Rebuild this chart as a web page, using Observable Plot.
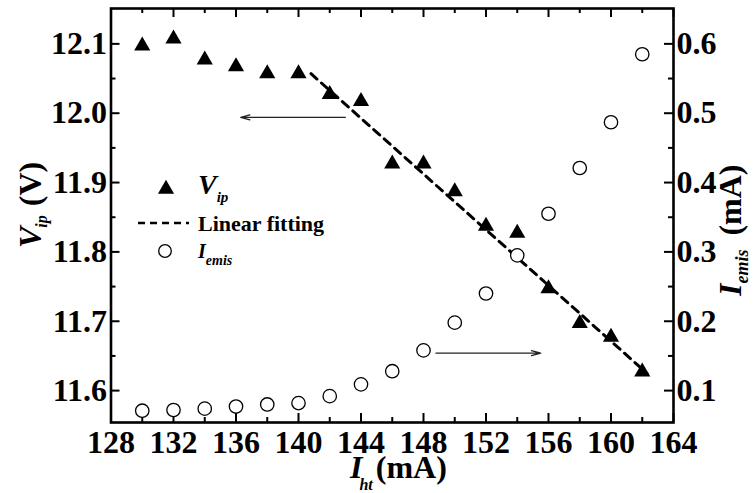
<!DOCTYPE html>
<html><head><meta charset="utf-8">
<script src="https://cdn.jsdelivr.net/npm/d3@7"></script>
<script src="https://cdn.jsdelivr.net/npm/@observablehq/plot@0.6"></script>
<style>
html,body{margin:0;padding:0;background:#fff;}
#chart{width:755px;height:493px;}
#chart svg, #chart svg text, #chart svg tspan{font-family:"Liberation Serif","DejaVu Serif",serif !important;}
</style></head><body><div id="chart"></div>
<script>
// ---- data ----
const current = [130,132,134,136,138,140,142,144,146,148,150,152,154,156,158,160,162];
const vip = [12.10,12.11,12.08,12.07,12.06,12.06,12.03,12.02,11.93,11.93,11.89,11.84,11.83,11.75,11.70,11.68,11.63];
const iemis = [0.071,0.072,0.074,0.077,0.080,0.082,0.092,0.109,0.128,0.158,0.198,0.240,0.295,0.355,0.421,0.487,0.585];
const fitX = [140.8, 162.3];
const fitV = [12.057, 11.625];
const arrowV = {x1: 143, x2: 136.3, v: 11.994};
const arrowI = {x1: 148.8, x2: 155.5, i: 0.154};
const xTicks = [128,132,136,140,144,148,152,156,160,164];
const xMinor = [130,134,138,142,146,150,154,158,162];
const vTicks = [11.6,11.7,11.8,11.9,12.0,12.1];
const vMinor = [11.65,11.75,11.85,11.95,12.05];
const iTicks = [0.1,0.2,0.3,0.4,0.5,0.6];
const iMinor = [0.15,0.25,0.35,0.45,0.55];
const xDomain = [128, 164];
const vDomain = [11.554, 12.151];
const iDomain = [0.054, 0.651];

// ---- layout ----
const W = 755, H = 493, mL = 110.5, mR = 82, mT = 8, mB = 71;
const fw = W - mL - mR, fh = H - mT - mB;
const SERIF = "\"Liberation Serif\", \"DejaVu Serif\", serif";
const toV = i => vDomain[0] + (i - iDomain[0]) * (vDomain[1] - vDomain[0]) / (iDomain[1] - iDomain[0]);
const fromV = v => iDomain[0] + (v - vDomain[0]) * (iDomain[1] - iDomain[0]) / (vDomain[1] - vDomain[0]);

const pts = current.map((c, k) => ({x: c, v: vip[k], i: iemis[k]}));
const fit = fitX.map((x, k) => ({x, v: fitV[k]}));

const MAJ = 9, MIN = 5, TW = 2;
const plot = Plot.plot({
  width: W, height: H,
  marginLeft: mL, marginRight: mR, marginTop: mT, marginBottom: mB,
  style: {fontFamily: SERIF, fontWeight: "bold", fontSize: "32px", background: "white", color: "black", overflow: "visible"},
  x: {domain: xDomain},
  y: {domain: vDomain},
  marks: [
    Plot.tickX(xTicks, {x: d => d, insetTop: fh - MAJ, strokeWidth: TW}),
    Plot.tickX(xMinor, {x: d => d, insetTop: fh - MIN, strokeWidth: TW}),
    Plot.tickX(xTicks, {x: d => d, insetBottom: fh - MAJ, strokeWidth: TW}),
    Plot.tickX(xMinor, {x: d => d, insetBottom: fh - MIN, strokeWidth: TW}),
    Plot.tickY(vTicks, {y: d => d, insetRight: fw - MAJ, strokeWidth: TW}),
    Plot.tickY(vMinor, {y: d => d, insetRight: fw - MIN, strokeWidth: TW}),
    Plot.tickY(iTicks, {y: d => toV(d), insetLeft: fw - MAJ, strokeWidth: TW}),
    Plot.tickY(iMinor, {y: d => toV(d), insetLeft: fw - MIN, strokeWidth: TW}),
    Plot.frame({stroke: "black", strokeWidth: 2.6}),
    Plot.axisX({ticks: xTicks, tickSize: 0, tickPadding: 8, tickFormat: d => String(d), label: null}),
    Plot.axisY({anchor: "left", ticks: vTicks, tickSize: 0, tickPadding: 4, tickFormat: d => d.toFixed(1), label: null}),
    Plot.axisY({anchor: "right", ticks: iTicks.map(toV), tickSize: 0, tickPadding: 3, tickFormat: d => fromV(d).toFixed(1), label: null}),
    Plot.line(fit, {x: "x", y: "v", stroke: "black", strokeWidth: 3, strokeDasharray: "8,6"}),
    Plot.dot(pts, {x: "x", y: d => toV(d.i), r: 6.7, stroke: "black", strokeWidth: 1.3, fill: "white"}),
    Plot.dot(pts, {x: "x", y: "v", symbol: "triangle", r: 6, fill: "black", stroke: "none", dy: 2}),
    Plot.arrow([arrowV], {x1: "x1", x2: "x2", y1: "v", y2: "v", stroke: "#222", strokeWidth: 1.3, headLength: 11, headAngle: 30}),
    Plot.arrow([arrowI], {x1: "x1", x2: "x2", y1: d => toV(d.i), y2: d => toV(d.i), stroke: "#222", strokeWidth: 1.3, headLength: 11, headAngle: 30})
  ]
});
document.getElementById("chart").appendChild(plot);

// ---- titles and legend ----
const svg = d3.select(plot);
function label(x, y, rot, size, main, sub, rest, subSize, shift, anchor, subDx = 0, restDx = 0) {
  const t = svg.append("text")
    .attr("transform", `translate(${x},${y})` + (rot ? ` rotate(${rot})` : ""))
    .attr("text-anchor", anchor)
    .style("font-family", SERIF).style("font-weight", "bold").style("font-size", size + "px").attr("fill", "black");
  t.append("tspan").style("font-style", "italic").text(main);
  t.append("tspan").style("font-style", "italic").style("font-size", subSize + "px").attr("dx", subDx).attr("dy", shift).text(sub);
  if (rest) t.append("tspan").attr("dx", restDx).attr("dy", -shift).text(rest);
  return t;
}
label(41, 248, -90, 32, "V", "ip", "(V)", 16, 6, "start", -1, 9);
label(350, 478, 0, 32, "I", "ht", "(mA)", 16, 12, "start", -3, 3);
label(741, 296, -90, 32, "I", "emis", "(mA)", 18, 7, "start", 0, 14);

// legend
const lg = svg.append("g");
lg.append("path").attr("d", d3.symbol(d3.symbolTriangle, 113)()).attr("transform", "translate(166,189)").attr("fill", "black");
label(198, 194, null, 28, "V", "ip", null, 15, 8, "start");
lg.append("line").attr("x1", 138).attr("x2", 189).attr("y1", 223).attr("y2", 223)
  .attr("stroke", "black").attr("stroke-width", 2.6).attr("stroke-dasharray", "7,5");
lg.append("text").attr("x", 198).attr("y", 231).attr("text-anchor", "start")
  .style("font-family", SERIF).style("font-weight", "bold")
  .style("font-size", "22px").attr("fill", "black").text("Linear fitting");
lg.append("circle").attr("cx", 165).attr("cy", 251).attr("r", 6.3).attr("fill", "white").attr("stroke", "black").attr("stroke-width", 1.3);
label(198, 258, null, 20, "I", "emis", null, 14, 7, "start");
</script>
</body></html>
